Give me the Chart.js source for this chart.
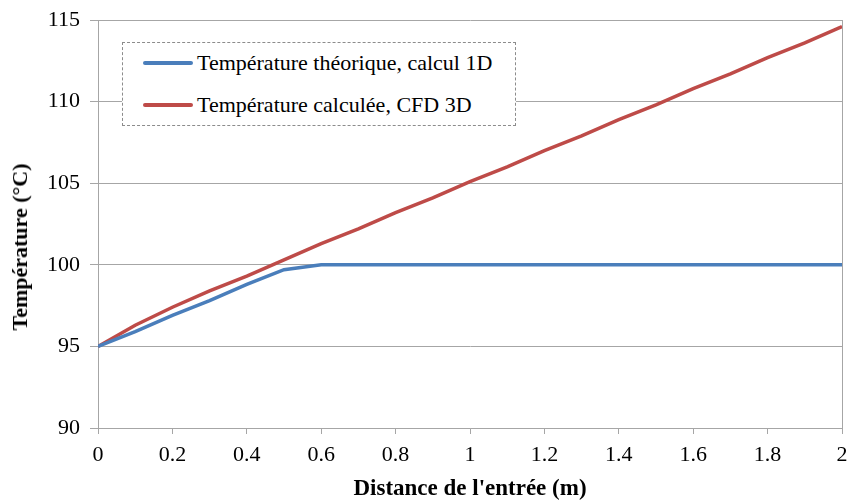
<!DOCTYPE html>
<html>
<head>
<meta charset="utf-8">
<script src="https://cdn.jsdelivr.net/npm/chart.js@4"></script>
<style>
  body { margin: 0; background: #fff; }
  #wrap { position: relative; width: 848px; height: 503px; overflow: hidden; }
  #legende {
    position: absolute; left: 122px; top: 42px; width: 392px; height: 82px;
    border: 1px dashed #8c8c8c; background: #fff;
    font-family: "Liberation Serif", "Times New Roman", serif; font-size: 22px; color: #000;
  }
  .item { position: absolute; left: 20px; height: 24px; line-height: 24px; white-space: nowrap; }
  .item span.trait { display: inline-block; width: 50px; height: 4px; border-radius: 2px; vertical-align: middle; margin-right: 4px; position: relative; top: -2px; }
  #titreY {
    position: absolute; left: 20px; top: 247px; transform: translate(-50%, -50%) rotate(-90deg);
    font-family: "Liberation Serif", "Times New Roman", serif; font-size: 22px; font-weight: bold; white-space: nowrap; color: #000;
  }
</style>
</head>
<body>
<div id="wrap">
  <canvas id="graphique" width="848" height="503"></canvas>
  <div id="titreY">Température (°C)</div>
  <div id="legende">
    <div class="item" style="top:8px"><span class="trait" style="background:#4a7ebb"></span>Température théorique, calcul 1D</div>
    <div class="item" style="top:50px"><span class="trait" style="background:#be4b48"></span>Température calculée, CFD 3D</div>
  </div>
</div>
<script>
// ========== DONNÉES ==========
const distance = [0, 0.1, 0.2, 0.3, 0.4, 0.5, 0.6, 0.7, 0.8, 0.9, 1.0, 1.1, 1.2, 1.3, 1.4, 1.5, 1.6, 1.7, 1.8, 1.9, 2.0];
const tempTheorique = [95, 95.9, 96.9, 97.8, 98.8, 99.7, 100, 100, 100, 100, 100, 100, 100, 100, 100, 100, 100, 100, 100, 100, 100];
const tempCFD = [95, 96.3, 97.4, 98.4, 99.3, 100.3, 101.3, 102.2, 103.2, 104.1, 105.1, 106.0, 107.0, 107.9, 108.9, 109.8, 110.8, 111.7, 112.7, 113.6, 114.6];
const labelsSeries = ['Température théorique, calcul 1D', 'Température calculée, CFD 3D'];

const famille = '"Liberation Serif", "Times New Roman", serif';
const police = { family: famille, size: 22 };
const gris = '#a6a6a6';

// bordure droite de la zone de tracé
const bordureDroite = {
  id: 'bordureDroite',
  afterDraw(chart) {
    const a = chart.chartArea, ctx = chart.ctx;
    ctx.save();
    ctx.strokeStyle = gris;
    ctx.lineWidth = 1;
    ctx.beginPath();
    ctx.moveTo(Math.round(a.right) + 0.5, a.top);
    ctx.lineTo(Math.round(a.right) + 0.5, a.bottom + 6);
    ctx.stroke();
    ctx.restore();
  }
};

const ctx = document.getElementById('graphique').getContext('2d');
new Chart(ctx, {
  type: 'line',
  data: {
    datasets: [
      {
        label: labelsSeries[0],
        data: distance.map((x, i) => ({ x: x, y: tempTheorique[i] })),
        borderColor: '#4a7ebb',
        borderWidth: 3.5,
        pointRadius: 0,
        tension: 0
      },
      {
        label: labelsSeries[1],
        data: distance.map((x, i) => ({ x: x, y: tempCFD[i] })),
        borderColor: '#be4b48',
        borderWidth: 3.5,
        pointRadius: 0,
        tension: 0
      }
    ]
  },
  options: {
    responsive: false,
    animation: false,
    layout: { padding: { top: 20, right: 0, left: 0, bottom: 0 } },
    plugins: { legend: { display: false }, tooltip: { enabled: false } },
    scales: {
      x: {
        type: 'linear',
        min: 0, max: 2,
        afterFit: (s) => { s.height = 75; s.paddingRight = 6; s.paddingLeft = 0; },
        ticks: {
          stepSize: 0.2,
          color: '#000',
          font: police,
          padding: 8,
          maxRotation: 0,
          callback: (v) => String(+v.toFixed(1))
        },
        grid: { drawOnChartArea: false, color: gris, tickLength: 6 },
        border: { color: gris },
        title: { display: true, text: "Distance de l'entrée (m)", color: '#000', font: { family: famille, size: 23, weight: 'bold' }, padding: { top: 2, bottom: 0 } }
      },
      y: {
        min: 90, max: 115,
        afterFit: (s) => { s.width = 98; s.paddingTop = 0; s.paddingBottom = 0; },
        ticks: { stepSize: 5, color: '#000', font: police, padding: 10 },
        grid: { color: gris, tickLength: 8 },
        border: { color: gris }
      }
    }
  },
  plugins: [bordureDroite]
});
</script>
</body>
</html>
